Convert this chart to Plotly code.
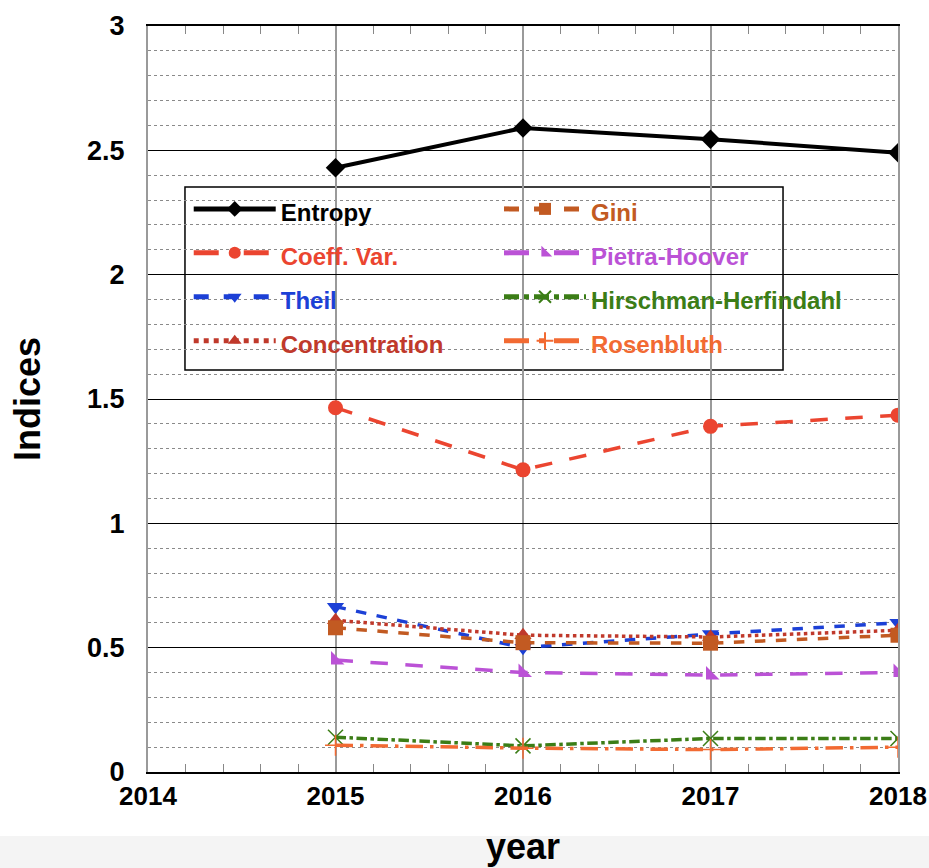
import plotly.graph_objects as go

years = [2015, 2016, 2017, 2018]
entropy = [2.43, 2.59, 2.545, 2.49]
gini = [0.58, 0.52, 0.518, 0.55]
coeff_var = [1.465, 1.215, 1.39, 1.435]
pietra_hoover = [0.45, 0.40, 0.39, 0.40]
theil = [0.665, 0.50, 0.555, 0.60]
hirschman = [0.14, 0.105, 0.135, 0.135]
concentration = [0.61, 0.55, 0.543, 0.57]
rosenbluth = [0.108, 0.096, 0.09, 0.10]

# name, values, colour, dash, marker, width, legend column
series = [
    ("Entropy", entropy, "#000000", "solid", "diamond", 4, "legend"),
    ("Coeff. Var.", coeff_var, "#eb4530", "longdash", "circle", 3.5, "legend"),
    ("Theil", theil, "#1c40d6", "dash", "triangle-down", 3.5, "legend"),
    ("Concentration", concentration, "#c0392b", "dot", "triangle-up", 3.5, "legend"),
    ("Gini", gini, "#c25a22", "dash", "square", 3.5, "legend2"),
    ("Pietra-Hoover", pietra_hoover, "#bb52d6", "longdash", "triangle-sw", 3.5, "legend2"),
    ("Hirschman-Herfindahl", hirschman, "#3b7d16", "dashdot", "x-thin-open", 3.5, "legend2"),
    ("Rosenbluth", rosenbluth, "#f26a32", "longdashdot", "cross-thin-open", 3.5, "legend2"),
]

fig = go.Figure()
for name, vals, color, dash, sym, w, lg in series:
    fig.add_trace(go.Scatter(
        x=years, y=vals, mode="lines+markers",
        name=f"<b><span style='font-size:24px;color:{color}'>{name}</span></b>",
        legend=lg,
        line=dict(color=color, dash=dash, width=w),
        marker=dict(symbol=sym, size=15, color=color,
                    line=dict(color=color, width=1.5 if "thin" in sym else 0)),
    ))

font_main = "Liberation Sans, Arial, sans-serif"

legend_common = dict(
    orientation="v", yanchor="top", xanchor="left",
    bgcolor="rgba(0,0,0,0)", borderwidth=0,
    font=dict(size=31.5, family=font_main),
    itemwidth=82, itemsizing="constant", tracegroupgap=0,
)

fig.update_layout(
    width=929, height=868,
    margin=dict(l=148, r=31, t=26, b=96),
    paper_bgcolor="white", plot_bgcolor="white",
    font=dict(family=font_main, color="black"),
    showlegend=True,
    legend=dict(x=0.0543, y=0.791, **legend_common),
    legend2=dict(x=0.468, y=0.791, **legend_common),
    xaxis=dict(
        range=[2014, 2018], dtick=1, tickformat="d", automargin=False,
        showgrid=True, gridcolor="#9a9a9a", gridwidth=1.5,
        showline=True, linecolor="black", linewidth=1.5,
        ticks="", zeroline=False,
        tickfont=dict(size=26, family="Liberation Sans Narrow, " + font_main, weight="bold"),
        title=dict(text="<b>year</b>", font=dict(size=36, family=font_main), standoff=24),
        minor=dict(dtick=0.2, ticks="inside", ticklen=8, tickcolor="#888", showgrid=False),
        mirror="ticks",
    ),
    yaxis=dict(
        range=[0, 3], dtick=0.5, automargin=False,
        showgrid=True, gridcolor="black", gridwidth=1,
        showline=True, linecolor="#9a9a9a", linewidth=2, mirror=True,
        zeroline=False, ticks="",
        tickfont=dict(size=27, family=font_main, weight="bold"),
        ticklabelstandoff=16,
        title=dict(text="<b>Indices</b>", font=dict(size=36, family=font_main), standoff=35),
        minor=dict(dtick=0.1, showgrid=True, gridcolor="#8a8a8a", griddash="dot", gridwidth=1),
    ),
    shapes=[
        dict(type="rect", xref="paper", yref="paper", x0=-0.25, x1=1.1,
             y0=-0.0858, y1=-0.135, fillcolor="#f4f4f4", line=dict(width=0), layer="below"),
        dict(type="rect", xref="paper", yref="paper", x0=0.0493, x1=0.8467,
             y0=0.5389, y1=0.7842, fillcolor="white",
             line=dict(color="black", width=1.5), layer="between"),
    ],
)

fig.write_html("out.html", config={"displayModeBar": False},
               post_script="document.body.style.margin='0';document.body.style.overflow='hidden';")
